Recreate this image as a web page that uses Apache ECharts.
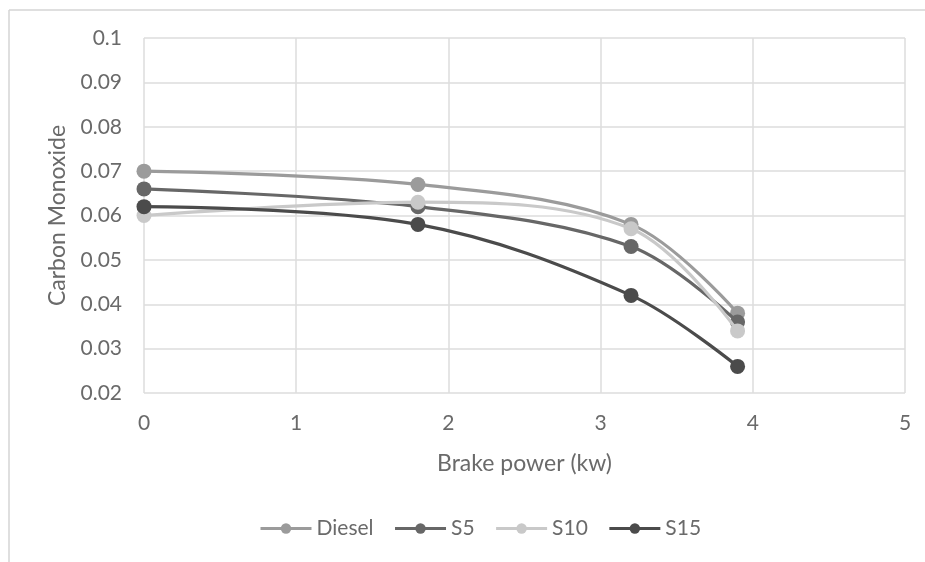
<!DOCTYPE html>
<html>
<head>
<meta charset="utf-8">
<script src="https://cdn.jsdelivr.net/npm/echarts@6/dist/echarts.min.js"></script>
<style>
  html, body { margin: 0; padding: 0; background: #ffffff; }
  #chart { width: 925px; height: 562px; }
</style>
</head>
<body>
<div id="chart"></div>
<script>
// Brake power (kW) at each measurement point
const brakePower = [0, 1.8, 3.2, 3.9];

// Carbon monoxide emissions per fuel blend
const diesel = [0.070, 0.067, 0.058, 0.038];
const s5     = [0.066, 0.062, 0.053, 0.036];
const s10    = [0.060, 0.063, 0.057, 0.034];
const s15    = [0.062, 0.058, 0.042, 0.026];

const seriesNames = ['Diesel', 'S5', 'S10', 'S15'];
const seriesValues = [diesel, s5, s10, s15];
const seriesColors = ['#9b9b9b', '#676767', '#c9c9c9', '#4b4b4b'];

const FONT = 'Lato, "Open Sans", sans-serif';
const TEXT = '#6a6a6a';

const chart = echarts.init(document.getElementById('chart'));

chart.setOption({
  animation: false,
  backgroundColor: '#ffffff',
  graphic: [
    { type: 'line', shape: { x1: 9, y1: 10, x2: 925, y2: 10 }, style: { stroke: '#d4d4d4', lineWidth: 1.5 } },
    { type: 'line', shape: { x1: 9, y1: 10, x2: 9, y2: 562 }, style: { stroke: '#d4d4d4', lineWidth: 1.5 } }
  ],
  grid: { left: 144, right: 20, top: 38, bottom: 169 },
  legend: {
    bottom: 18,
    left: 254,
    itemWidth: 51,
    itemHeight: 13,
    itemGap: 20,
    lineStyle: { width: 3 },
    textStyle: { fontFamily: FONT, fontSize: 21, color: TEXT },
    data: seriesNames
  },
  xAxis: {
    type: 'value',
    min: 0, max: 5, interval: 1,
    name: 'Brake power (kw)',
    nameLocation: 'middle',
    nameGap: 59,
    nameTextStyle: { fontFamily: FONT, fontSize: 23, color: TEXT },
    axisLine: { show: false },
    axisTick: { show: false },
    axisLabel: { fontFamily: FONT, fontSize: 21, color: TEXT, margin: 20 },
    splitLine: { show: true, lineStyle: { color: '#dcdcdc', width: 1.5 } }
  },
  yAxis: {
    type: 'value',
    min: 0.02, max: 0.1, interval: 0.01,
    name: 'Carbon Monoxide',
    nameLocation: 'middle',
    nameGap: 75,
    nameTextStyle: { fontFamily: FONT, fontSize: 23, color: TEXT },
    axisLine: { show: false },
    axisTick: { show: false },
    axisLabel: {
      fontFamily: FONT, fontSize: 21, color: TEXT, margin: 22,
      formatter: v => String(parseFloat(v.toFixed(2)))
    },
    splitLine: { show: true, lineStyle: { color: '#dcdcdc', width: 1.5 } }
  },
  series: seriesNames.map((name, i) => ({
    name,
    type: 'line',
    smooth: 0.35,
    symbol: 'circle',
    symbolSize: 15,
    data: brakePower.map((x, j) => [x, seriesValues[i][j]]),
    lineStyle: { color: seriesColors[i], width: 3.2 },
    itemStyle: { color: seriesColors[i] },
    z: 2 + i
  }))
});
</script>
</body>
</html>
